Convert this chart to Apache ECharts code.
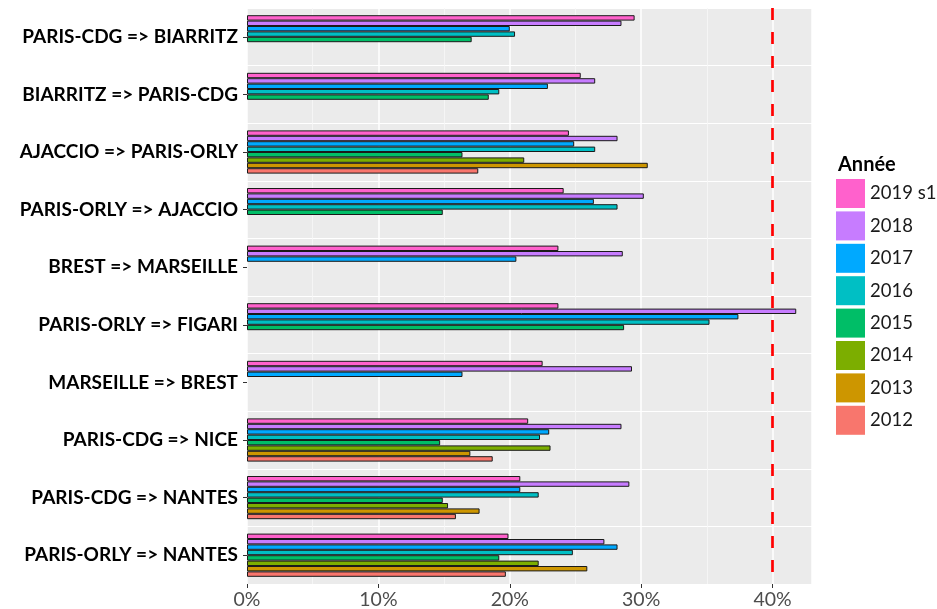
<!DOCTYPE html>
<html>
<head>
<meta charset="utf-8">
<script src="https://cdn.jsdelivr.net/npm/echarts@6/dist/echarts.min.js"></script>
<style>
html,body{margin:0;padding:0;background:#fff;}
#chart{width:937px;height:609px;}
</style>
</head>
<body>
<div id="chart"></div>
<script>
const categories = ['PARIS-CDG => BIARRITZ','BIARRITZ => PARIS-CDG','AJACCIO => PARIS-ORLY','PARIS-ORLY => AJACCIO','BREST => MARSEILLE','PARIS-ORLY => FIGARI','MARSEILLE => BREST','PARIS-CDG => NICE','PARIS-CDG => NANTES','PARIS-ORLY => NANTES'];
const years = ['2019 s1','2018','2017','2016','2015','2014','2013','2012'];
const colors = ['#FF61CC','#C77CFF','#00A9FF','#00BFC4','#00BE67','#7CAE00','#CD9600','#F8766D'];
const v2019 = [29.5, 25.4, 24.5, 24.1, 23.7, 23.7, 22.5, 21.4, 20.8, 19.9];
const v2018 = [28.5, 26.5, 28.2, 30.2, 28.6, 41.8, 29.3, 28.5, 29.1, 27.2];
const v2017 = [20.0, 22.9, 24.9, 26.4, 20.5, 37.4, 16.4, 23.0, 20.8, 28.2];
const v2016 = [20.4, 19.2, 26.5, 28.2, null, 35.2, null, 22.3, 22.2, 24.8];
const v2015 = [17.1, 18.4, 16.4, 14.9, null, 28.7, null, 14.7, 14.9, 19.2];
const v2014 = [null, null, 21.1, null, null, null, null, 23.1, 15.3, 22.2];
const v2013 = [null, null, 30.5, null, null, null, null, 17.0, 17.7, 25.9];
const v2012 = [null, null, 17.6, null, null, null, null, 18.7, 15.9, 19.7];
const xTicks = [0, 10, 20, 30, 40];
const threshold = 40;

const values = [v2019, v2018, v2017, v2016, v2015, v2014, v2013, v2012];

const series = years.map((y, i) => {
  const s = {
    name: y,
    type: 'bar',
    data: values[i],
    barGap: '0%',
    barCategoryGap: '25%',
    itemStyle: { color: colors[i], borderColor: '#1a1a1a', borderWidth: 1 },
    emphasis: { disabled: true }
  };
  if (i === 0) {
    s.markLine = {
      silent: true,
      symbol: 'none',
      label: { show: false },
      lineStyle: { color: '#FF0000', type: [12, 12], width: 2.7 },
      data: [{ xAxis: threshold }]
    };
  }
  return s;
});

const chart = echarts.init(document.getElementById('chart'));
chart.setOption({
  animation: false,
  backgroundColor: '#fff',
  color: colors,
  grid: {
    left: 247, top: 8, width: 565, height: 576,
    containLabel: false, outerBoundsMode: 'none',
    show: true, backgroundColor: '#EBEBEB', borderWidth: 0
  },
  xAxis: {
    type: 'value', min: 0, max: 43, interval: 10,
    axisLine: { show: false },
    axisTick: { show: true, length: 4, lineStyle: { color: '#333', width: 1 } },
    axisLabel: {
      formatter: v => xTicks.includes(v) ? v + '%' : '',
      showMaxLabel: false,
      color: '#4D4D4D', fontSize: 19.5, fontFamily: 'Lato, sans-serif', margin: 6
    },
    splitLine: { show: true, lineStyle: { color: '#FFFFFF', width: 1.5 } },
    minorTick: { show: false, splitNumber: 2 },
    minorSplitLine: { show: true, lineStyle: { color: '#F7F7F7', width: 0.8 } }
  },
  yAxis: {
    type: 'category', inverse: true, data: categories,
    axisLine: { show: false },
    axisTick: { show: true, alignWithLabel: true, length: 4, lineStyle: { color: '#333', width: 1 } },
    axisLabel: {
      color: '#000', fontWeight: 'bold', fontSize: 19,
      fontFamily: 'Lato, sans-serif',
      margin: 9
    },
    splitLine: { show: true, lineStyle: { color: '#FFFFFF', width: 1.2 } }
  },
  legend: {
    orient: 'vertical', left: 836, top: 179, padding: 0,
    data: years,
    itemWidth: 29, itemHeight: 29, itemGap: 3.4,
    icon: 'rect',
    itemStyle: { borderWidth: 0 },
    textStyle: { color: '#1a1a1a', fontSize: 18.5, fontFamily: 'Lato, sans-serif' },
    selectedMode: false
  },
  graphic: [{
    type: 'text', left: 838, top: 155,
    style: { text: 'Année', fill: '#000', font: 'bold 20px Lato, sans-serif' }
  }],
  series: series
});
</script>
</body>
</html>
